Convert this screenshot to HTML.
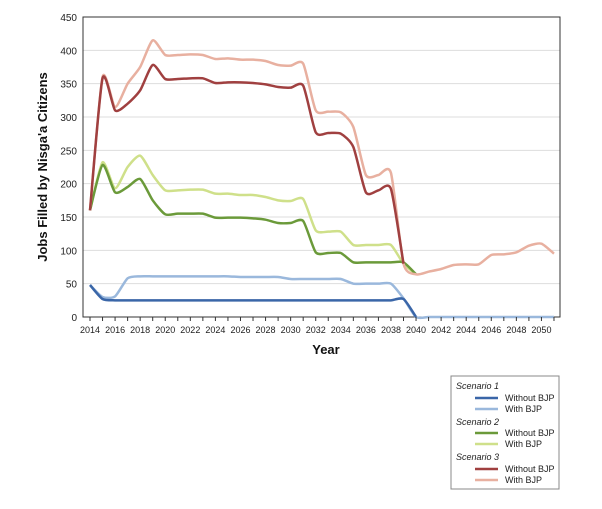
<!DOCTYPE html>
<html><head><meta charset="utf-8"><style>
body{margin:0;background:#fff;}
svg{display:block;font-family:"Liberation Sans",Arial,sans-serif;}
</style></head><body>
<svg id="s" width="602" height="509" viewBox="0 0 602 509">
<g id="grid"></g>
<rect x="83" y="17" width="477" height="300" fill="none" stroke="#333" stroke-width="1"/>
<g id="series"></g>
<g id="ticks" font-size="9" fill="#222"></g>
<text x="326" y="354" font-size="13" font-weight="bold" text-anchor="middle" fill="#111">Year</text>
<text transform="translate(47,167) rotate(-90)" font-size="13" font-weight="bold" text-anchor="middle" fill="#111">Jobs Filled by Nisga'a Citizens</text>
<rect x="451" y="376" width="108" height="113" fill="#fff" stroke="#888" stroke-width="1"/>
<g font-size="9" fill="#222">
<text x="456" y="389" font-style="italic">Scenario 1</text>
<line x1="475" y1="398" x2="498" y2="398" stroke="#3a66a8" stroke-width="2.5"/><text x="505" y="401">Without BJP</text>
<line x1="475" y1="409" x2="498" y2="409" stroke="#9ab8dc" stroke-width="2.5"/><text x="505" y="412">With BJP</text>
<text x="456" y="425" font-style="italic">Scenario 2</text>
<line x1="475" y1="433" x2="498" y2="433" stroke="#6b9a3a" stroke-width="2.5"/><text x="505" y="436">Without BJP</text>
<line x1="475" y1="444" x2="498" y2="444" stroke="#cfe08a" stroke-width="2.5"/><text x="505" y="447">With BJP</text>
<text x="456" y="460" font-style="italic">Scenario 3</text>
<line x1="475" y1="469" x2="498" y2="469" stroke="#a04040" stroke-width="2.5"/><text x="505" y="472">Without BJP</text>
<line x1="475" y1="480" x2="498" y2="480" stroke="#e8b0a0" stroke-width="2.5"/><text x="505" y="483">With BJP</text>
</g>
</svg>
<script>
var NS="http://www.w3.org/2000/svg";
function X(yr){return 90+(yr-2014)*12.54;}
function Y(v){return 317-v*300/450;}
function el(t,a,p,txt){var e=document.createElementNS(NS,t);for(var k in a)e.setAttribute(k,a[k]);if(txt!==undefined)e.textContent=txt;p.appendChild(e);return e;}
var g=document.getElementById('grid'),tk=document.getElementById('ticks'),se=document.getElementById('series');
for(var v=0;v<=450;v+=50){if(v>0&&v<450)el('line',{x1:83,x2:560,y1:Y(v),y2:Y(v),stroke:'#ddd','stroke-width':1},g);
el('text',{x:77,y:Y(v)+4,'text-anchor':'end','font-size':10},tk,String(v));}
for(var yr=2014;yr<=2051;yr++){el('line',{x1:X(yr),x2:X(yr),y1:317,y2:321,stroke:'#333'},tk);
if(yr%2==0&&yr<=2050)el('text',{x:X(yr),y:333,'text-anchor':'middle'},tk,String(yr));}
function path(d){var p=d.map(function(v,i){return [X(2014+i),Y(v)];});var s='M'+p[0][0]+','+p[0][1];
for(var i=0;i<p.length-1;i++){var p0=p[Math.max(0,i-1)],p1=p[i],p2=p[i+1],p3=p[Math.min(p.length-1,i+2)];var t=9;
s+='C'+(p1[0]+(p2[0]-p0[0])/t)+','+(p1[1]+(p2[1]-p0[1])/t)+' '+(p2[0]-(p3[0]-p1[0])/t)+','+(p2[1]-(p3[1]-p1[1])/t)+' '+p2[0]+','+p2[1];}return s;}
var tail=[64,68,72,78,79,79,93,94,97,107,110,95];
var zeros=[0,0,0,0,0,0,0,0,0,0,0,0];
function flat(n,v){var a=[];for(var i=0;i<n;i++)a.push(v);return a;}
var S=[
 ['#9ab8dc',[48,30,31,58,61,61,61,61,61,61,61,61,60,60,60,60,57,57,57,57,57,50,50,50,50,28].concat(zeros)],
 ['#3a66a8',[48,27].concat(flat(23,25)).concat([27,0])],
 ['#cfe08a',[160,232,193,225,242,213,190,190,191,191,185,185,183,183,180,175,174,177,130,128,128,108,108,108,108,80,64]],
 ['#6b9a3a',[160,228,187,195,207,175,154,155,155,155,149,149,149,148,146,141,141,144,97,96,96,82,82,82,82,82,64]],
 ['#e8b0a0',[160,360,315,350,375,415,393,393,394,393,387,388,386,386,384,378,377,380,310,308,307,285,213,213,216,80].concat(tail)],
 ['#a04040',[160,358,310,320,340,378,357,357,358,358,351,352,352,351,349,345,344,347,277,276,275,255,187,190,192,80]]
];
S.forEach(function(s){el('path',{d:path(s[1]),fill:'none',stroke:s[0],'stroke-width':2.5,'stroke-linejoin':'round'},se);});
</script>
</body></html>
